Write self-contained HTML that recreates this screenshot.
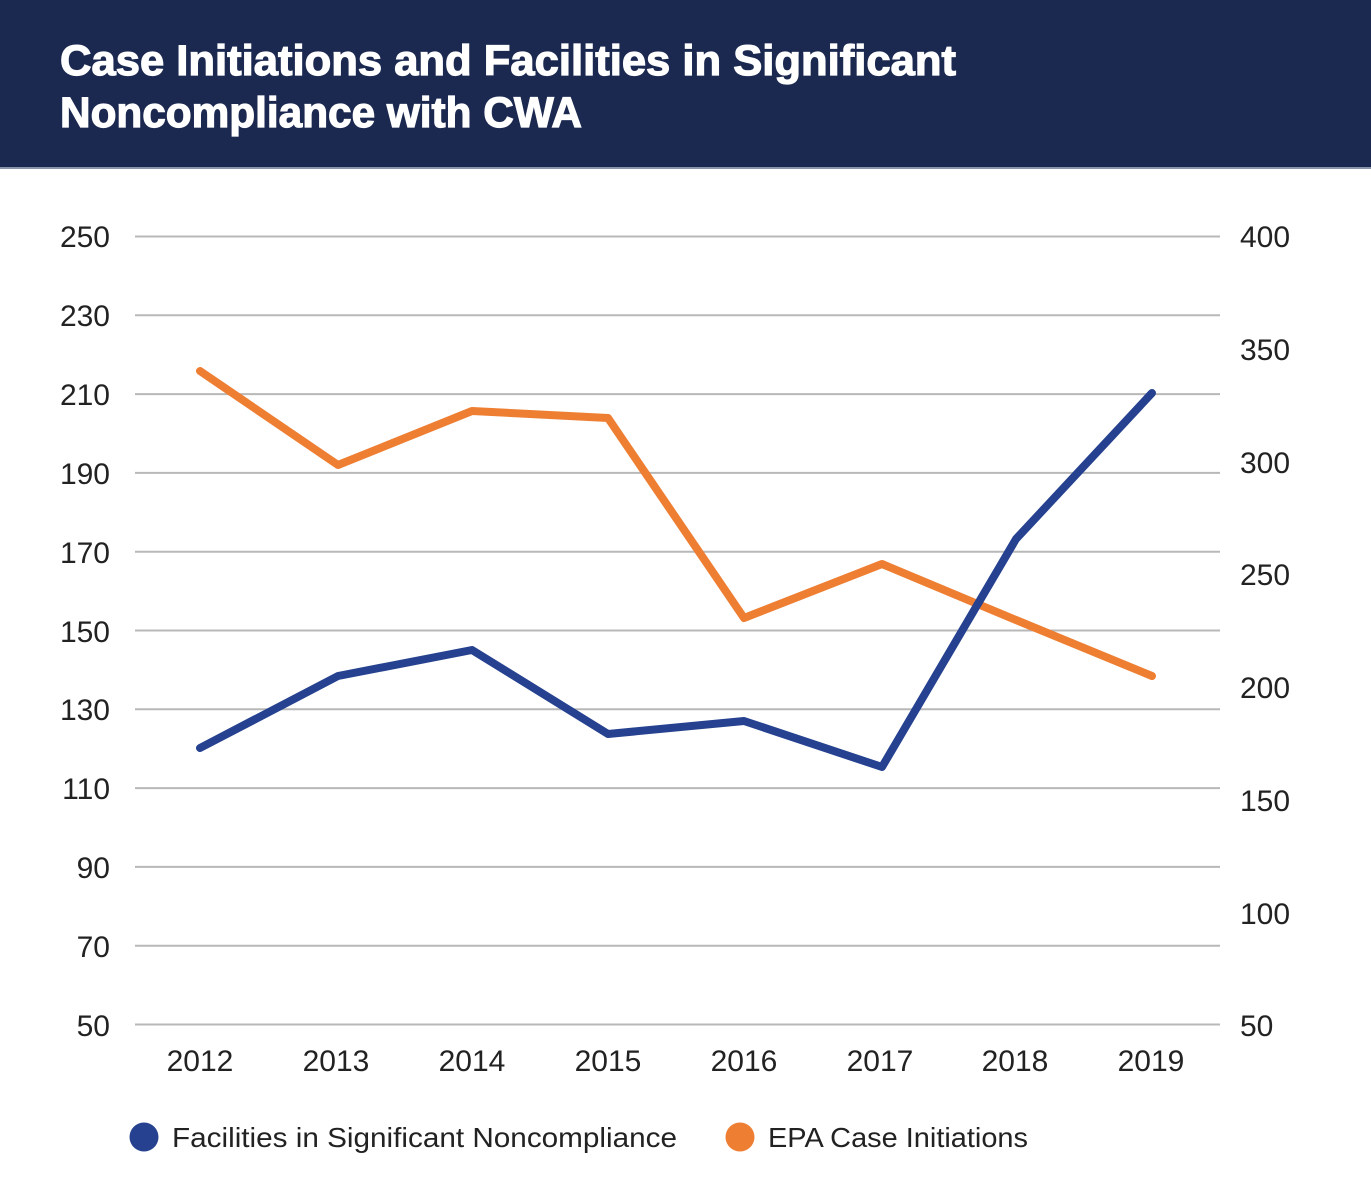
<!DOCTYPE html>
<html><head><meta charset="utf-8"><style>
html,body{margin:0;padding:0;background:#fff;}
svg{display:block;}
</style></head><body>
<svg width="1371" height="1200" viewBox="0 0 1371 1200" xmlns="http://www.w3.org/2000/svg">
<rect x="0" y="0" width="1371" height="168" fill="#1b2850"/>
<rect x="0" y="167" width="1371" height="2" fill="#8a93a8"/>
<g font-family="Liberation Sans, sans-serif" font-weight="bold" fill="#fff" stroke="#fff" stroke-width="1.2" font-size="43">
<text x="60" y="75" textLength="896" lengthAdjust="spacingAndGlyphs">Case Initiations and Facilities in Significant</text>
<text x="60" y="127" textLength="522" lengthAdjust="spacingAndGlyphs">Noncompliance with CWA</text>
</g>
<g stroke="#b8b8b8" stroke-width="2">
<line x1="135" x2="1220" y1="236.5" y2="236.5"/>
<line x1="135" x2="1220" y1="315.3" y2="315.3"/>
<line x1="135" x2="1220" y1="394.1" y2="394.1"/>
<line x1="135" x2="1220" y1="472.9" y2="472.9"/>
<line x1="135" x2="1220" y1="551.7" y2="551.7"/>
<line x1="135" x2="1220" y1="630.5" y2="630.5"/>
<line x1="135" x2="1220" y1="709.3" y2="709.3"/>
<line x1="135" x2="1220" y1="788.1" y2="788.1"/>
<line x1="135" x2="1220" y1="866.9" y2="866.9"/>
<line x1="135" x2="1220" y1="945.7" y2="945.7"/>
<line x1="135" x2="1220" y1="1024.5" y2="1024.5"/>
</g>
<g font-family="Liberation Sans, sans-serif" font-size="30" fill="#222" text-anchor="end">
<text x="110" y="247">250</text>
<text x="110" y="326">230</text>
<text x="110" y="405">210</text>
<text x="110" y="484">190</text>
<text x="110" y="563">170</text>
<text x="110" y="642">150</text>
<text x="110" y="720">130</text>
<text x="110" y="799">110</text>
<text x="110" y="878">90</text>
<text x="110" y="957">70</text>
<text x="110" y="1036">50</text>
</g>
<g font-family="Liberation Sans, sans-serif" font-size="30" fill="#222" text-anchor="start">
<text x="1240" y="247">400</text>
<text x="1240" y="360">350</text>
<text x="1240" y="473">300</text>
<text x="1240" y="585">250</text>
<text x="1240" y="698">200</text>
<text x="1240" y="811">150</text>
<text x="1240" y="924">100</text>
<text x="1240" y="1036">50</text>
</g>
<g font-family="Liberation Sans, sans-serif" font-size="30" fill="#222" text-anchor="middle">
<text x="200" y="1071">2012</text>
<text x="336" y="1071">2013</text>
<text x="472" y="1071">2014</text>
<text x="608" y="1071">2015</text>
<text x="744" y="1071">2016</text>
<text x="880" y="1071">2017</text>
<text x="1015" y="1071">2018</text>
<text x="1151" y="1071">2019</text>
</g>
<polyline fill="none" stroke="#ee7e32" stroke-width="8" stroke-linejoin="round" stroke-linecap="round"
 points="200,371 338,465 472,411 608,418 744,618 882,564 1016,620 1152,676"/>
<polyline fill="none" stroke="#25418f" stroke-width="8" stroke-linejoin="round" stroke-linecap="round"
 points="200,748 338,676 472,650 608,734 744,721 882,767 1016,539 1152,393"/>
<circle cx="144" cy="1137" r="14.5" fill="#25418f"/>
<circle cx="740" cy="1137" r="14.5" fill="#ee7e32"/>
<g font-family="Liberation Sans, sans-serif" font-size="28" fill="#222">
<text x="172" y="1147" textLength="505" lengthAdjust="spacingAndGlyphs">Facilities in Significant Noncompliance</text>
<text x="768" y="1147" textLength="260" lengthAdjust="spacingAndGlyphs">EPA Case Initiations</text>
</g>
</svg>
</body></html>
